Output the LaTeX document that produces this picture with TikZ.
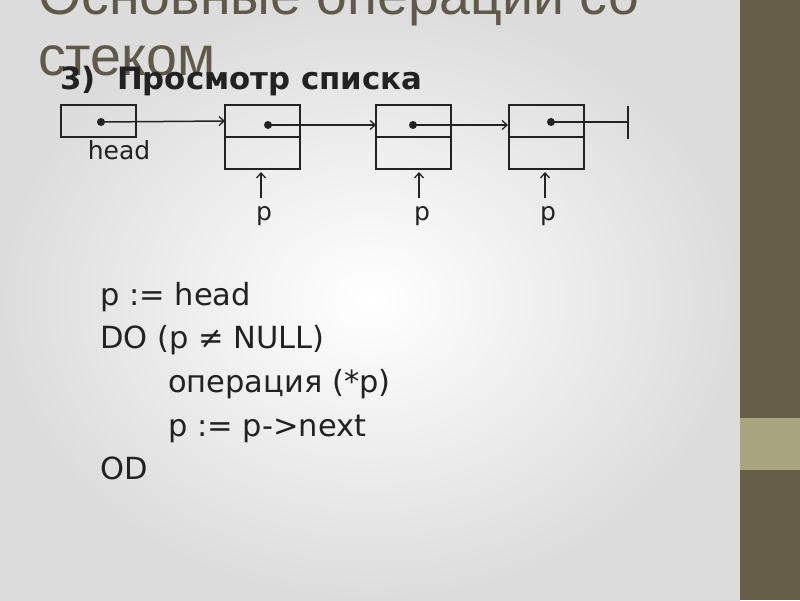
\documentclass[tikz,border=0pt]{standalone}
\usepackage{fontspec}
\setmainfont{DejaVu Sans}
\newfontfamily\titlefont{Liberation Sans}
\usetikzlibrary{arrows.meta}
\definecolor{titlecol}{HTML}{5E5948}
\definecolor{barcol}{HTML}{665E48}
\definecolor{bandcol}{HTML}{A8A47E}
\definecolor{ink}{HTML}{222222}
\definecolor{bgedge}{HTML}{DCDCDC}
\tikzset{
  cellbox/.style={draw=ink, line width=2pt, minimum width=75pt, minimum height=64pt, inner sep=0pt, outer sep=0pt},
  headbox/.style={draw=ink, line width=2pt, minimum width=75pt, minimum height=32pt, inner sep=0pt, outer sep=0pt},
  link/.style={draw=ink, line width=1.5pt, -{Straight Barb[length=5pt,width=9pt,line width=1.3pt]}},
  plain/.style={draw=ink, line width=1.6pt},
  dotmark/.style={circle, fill=ink, inner sep=0pt, minimum size=8pt},
  lbl/.style={font=\fontsize{25}{28}\selectfont, text=ink, inner sep=0pt},
  code/.style={font=\fontsize{30.5}{34}\selectfont, text=ink, anchor=base west, inner sep=0pt},
}
\begin{document}
\begin{tikzpicture}[x=1pt, y=-1pt]
\useasboundingbox (0,0) rectangle (800,600);
% background
\shade[inner color=white, outer color=bgedge] (0,0) rectangle (740,600);
\fill[barcol] (740,0) rectangle (800,600);
\fill[bandcol] (740,418) rectangle (800,470);
% title
\node[anchor=base west, inner sep=0pt, text=titlecol, font=\titlefont\fontsize{55.5}{60}\selectfont] (t1) at (38,14) {Основные операции со};
\node[anchor=base west, inner sep=0pt, text=titlecol, font=\titlefont\fontsize{55.5}{60}\selectfont] (t2) at (38,75) {стеком};
% heading
\node[anchor=base west, inner sep=0pt, text=ink, font=\bfseries\fontsize{30.8}{34}\selectfont] (hd) at (60,89) {3)\ \ Просмотр списка};
% list
\node[headbox] (h) at (98.5,121) {};
\node[cellbox] (n1) at (262.5,137) {};
\node[cellbox] (n2) at (413.5,137) {};
\node[cellbox] (n3) at (546,137) {};
\draw[plain] (n1.west) -- (n1.east);
\draw[plain] (n2.west) -- (n2.east);
\draw[plain] (n3.west) -- (n3.east);
\node[dotmark] (d0) at (101,122) {};
\node[dotmark] (d1) at (268,125) {};
\node[dotmark] (d2) at (413,125) {};
\node[dotmark] (d3) at (551,122) {};
\coordinate (e1) at (225,121);
\coordinate (e2) at (376,125);
\coordinate (e3) at (508,125);
\coordinate (nil) at (628,122);
\coordinate (nilt) at (628,106);
\coordinate (nilb) at (628,139);
\draw[link] (d0.center) -- (e1);
\draw[link] (d1.center) -- (e2);
\draw[link] (d2.center) -- (e3);
\draw[plain] (d3.center) -- (nil);
\draw[plain] (nilt) -- (nilb);
\node[lbl, anchor=base] (hl) at (119,159) {head};
% p pointers
\node[lbl, anchor=base] (p1) at (264,220) {p};
\node[lbl, anchor=base] (p2) at (422,220) {p};
\node[lbl, anchor=base] (p3) at (548,220) {p};
\coordinate (a1s) at (261,198); \coordinate (a1e) at (261,172);
\coordinate (a2s) at (419,198); \coordinate (a2e) at (419,172);
\coordinate (a3s) at (545,198); \coordinate (a3e) at (545,172);
\draw[link] (a1s) -- (a1e);
\draw[link] (a2s) -- (a2e);
\draw[link] (a3s) -- (a3e);
% code
\node[code] (c1) at (100,305) {p := head};
\node[code] (c2) at (100,348) {DO (p ≠ NULL)};
\node[code] (c3) at (168,392) {операция (*p)};
\node[code] (c4) at (168,436) {p := p->next};
\node[code] (c5) at (100,479) {OD};
\end{tikzpicture}
\end{document}
